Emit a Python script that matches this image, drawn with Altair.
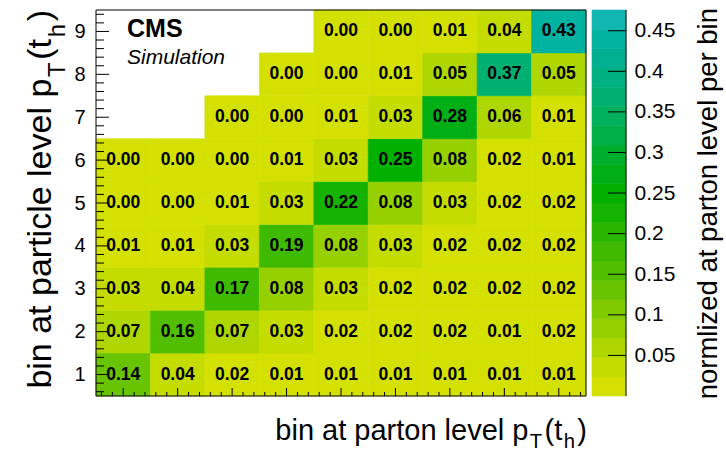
import altair as alt
import pandas as pd

# ---------------- data ----------------
parton_bins = [1, 2, 3, 4, 5, 6, 7, 8, 9]
particle_bins = [1, 2, 3, 4, 5, 6, 7, 8, 9]
# one list per particle-level bin (row), values per parton-level bin; None = empty cell
row1 = [0.14, 0.04, 0.02, 0.01, 0.01, 0.01, 0.01, 0.01, 0.01]
row2 = [0.07, 0.16, 0.07, 0.03, 0.02, 0.02, 0.02, 0.01, 0.02]
row3 = [0.03, 0.04, 0.17, 0.08, 0.03, 0.02, 0.02, 0.02, 0.02]
row4 = [0.01, 0.01, 0.03, 0.19, 0.08, 0.03, 0.02, 0.02, 0.02]
row5 = [0.00, 0.00, 0.01, 0.03, 0.22, 0.08, 0.03, 0.02, 0.02]
row6 = [0.00, 0.00, 0.00, 0.01, 0.03, 0.25, 0.08, 0.02, 0.01]
row7 = [None, None, 0.00, 0.00, 0.01, 0.03, 0.28, 0.06, 0.01]
row8 = [None, None, None, 0.00, 0.00, 0.01, 0.05, 0.37, 0.05]
row9 = [None, None, None, None, 0.00, 0.00, 0.01, 0.04, 0.43]
rows = [row1, row2, row3, row4, row5, row6, row7, row8, row9]

colorbar_ticks = [0.05, 0.1, 0.15, 0.2, 0.25, 0.3, 0.35, 0.4, 0.45]
z_max = 0.4755

palette = ["#d4e100", "#c4dc00", "#aed600", "#96d000", "#80ca00",
           "#68c400", "#52be00", "#3eba00", "#2ab600", "#16b200",
           "#02b000", "#00ae16", "#00ae2e", "#00ae46", "#00b05c",
           "#00b070", "#00b080", "#00b090", "#00b2a0", "#10b6b0"]

# ---------------- tables ----------------
records = []
for yb, row in zip(particle_bins, rows):
    for xb, v in zip(parton_bins, row):
        if v is not None:
            records.append({"parton": xb, "particle": yb, "value": v})
cells = pd.DataFrame(records)

n_bands = len(palette)
bw = z_max / n_bands
bands = pd.DataFrame({"lo": [i * bw for i in range(n_bands)],
                      "hi": [(i + 1) * bw for i in range(n_bands)]})
bands["mid"] = (bands["lo"] + bands["hi"]) / 2

major_pos = pd.DataFrame({"p": parton_bins})
minor_pos = pd.DataFrame({"p": [round(0.6 + 0.2 * i, 1) for i in range(45)
                                if abs(round(0.6 + 0.2 * i, 1) - round(0.6 + 0.2 * i)) > 1e-6]})
cb_ticks = pd.DataFrame({"t": colorbar_ticks})
one = pd.DataFrame({"a": [0]})

# ---------------- layout constants ----------------
W, H = 490, 386
FONT = "Liberation Sans"
xs = alt.Scale(domain=[0.5, 9.5], nice=False, zero=False)
ys = alt.Scale(domain=[0.5, 9.5], nice=False, zero=False)
cbs = alt.Scale(domain=[0, z_max], nice=False, zero=False)
cscale = alt.Scale(type="quantize", domain=[0, z_max], range=palette)

heat = alt.Chart(cells).transform_calculate(
    x0="datum.parton - 0.5", x1="datum.parton + 0.5",
    y0="datum.particle - 0.5", y1="datum.particle + 0.5"
).mark_rect(strokeWidth=0.6).encode(
    x=alt.X("x0:Q", scale=xs, axis=alt.Axis(values=parton_bins, format="d", labelFontSize=20,
                                           labelPadding=8, ticks=False, domain=False, grid=False,
                                           title=None, labelColor="black", labelFont=FONT)),
    x2="x1:Q",
    y=alt.Y("y0:Q", scale=ys, axis=alt.Axis(values=particle_bins, format="d", labelFontSize=20,
                                           labelPadding=11, ticks=False, domain=False, grid=False,
                                           title=None, labelColor="black", labelFont=FONT)),
    y2="y1:Q",
    color=alt.Color("value:Q", scale=cscale, legend=None),
    stroke=alt.Stroke("value:Q", scale=cscale, legend=None),
)

labels = alt.Chart(cells).mark_text(font=FONT, fontWeight="bold", fontSize=17.5, color="black",
                                    baseline="middle", align="center").encode(
    x=alt.X("parton:Q", scale=xs, axis=None),
    y=alt.Y("particle:Q", scale=ys, axis=None),
    text=alt.Text("value:Q", format=".2f"),
)

x_major = alt.Chart(major_pos).mark_rule(color="black", strokeWidth=1).encode(
    x=alt.X("p:Q", scale=xs, axis=None), y=alt.value(H), y2=alt.value(H - 8))
x_minor = alt.Chart(minor_pos).mark_rule(color="black", strokeWidth=1).encode(
    x=alt.X("p:Q", scale=xs, axis=None), y=alt.value(H), y2=alt.value(H - 4))
y_major = alt.Chart(major_pos).mark_rule(color="black", strokeWidth=1).encode(
    y=alt.Y("p:Q", scale=ys, axis=None), x=alt.value(0), x2=alt.value(13))
y_minor = alt.Chart(minor_pos).mark_rule(color="black", strokeWidth=1).encode(
    y=alt.Y("p:Q", scale=ys, axis=None), x=alt.value(0), x2=alt.value(8))

frame = alt.Chart(one).mark_rect(fill=None, stroke="black", strokeWidth=1).encode(
    x=alt.value(0), x2=alt.value(W), y=alt.value(0), y2=alt.value(H))

# colour bar
cb_x0, cb_x1 = 496, 530
cbar = alt.Chart(bands).mark_rect(strokeWidth=0.6).encode(
    x=alt.value(cb_x0), x2=alt.value(cb_x1),
    y=alt.Y("lo:Q", scale=cbs, axis=alt.Axis(orient="right", offset=cb_x1 - W, values=colorbar_ticks,
                                            format="~g", labelFontSize=21, labelPadding=8,
                                            ticks=False, domain=False, grid=False, title=None,
                                            labelColor="black", labelFont=FONT)),
    y2="hi:Q",
    color=alt.Color("mid:Q", scale=cscale, legend=None),
    stroke=alt.Stroke("mid:Q", scale=cscale, legend=None),
)
cbar_ticks = alt.Chart(cb_ticks).mark_rule(color="black", strokeWidth=1).encode(
    y=alt.Y("t:Q", scale=cbs, axis=None), x=alt.value(cb_x0 + 16), x2=alt.value(cb_x1))
cbar_line = alt.Chart(one).mark_rule(color="black", strokeWidth=1).encode(
    x=alt.value(cb_x1), y=alt.value(0), y2=alt.value(H))

# ---------------- titles with sub-scripts ----------------
CW = {' ': 278, 'a': 556, 'b': 556, 'c': 500, 'd': 556, 'e': 556, 'h': 556, 'i': 222,
      'l': 222, 'n': 556, 'o': 556, 'p': 556, 'r': 333, 't': 278, 'v': 500, 'z': 500,
      'm': 833, 'T': 611, '(': 333, ')': 333}


def text_w(s, fs):
    return sum(CW.get(c, 556) for c in s) / 1000.0 * fs


def title_layers(pieces, fs, anchor_end, base, vertical, drop_f=0.4):
    sub_fs = fs * 0.7
    drop = fs * drop_f
    items = []
    pos = 0.0
    for txt, sub in pieces:
        f = sub_fs if sub else fs
        if sub:
            pos += 0.05 * fs
        items.append((txt, f, sub, pos))
        pos += text_w(txt, f)
        if sub:
            pos += 0.08 * fs
    total = pos
    out = []
    for txt, f, sub, p in items:
        if not vertical:
            xv = anchor_end - total + p
            yv = base + (drop if sub else 0)
            ang = 0
        else:
            yv = anchor_end + total - p
            xv = base + (drop if sub else 0)
            ang = 270
        out.append(alt.Chart(one).mark_text(text=txt, font=FONT, fontSize=f, color="black",
                                            align="left", baseline="alphabetic", angle=ang)
                   .encode(x=alt.value(xv), y=alt.value(yv)))
    return out


x_title = title_layers([("bin at parton level p", False), ("T", True), ("(t", False),
                        ("h", True), (")", False)], 29, W + 1, 430, False, 0.28)
y_title = title_layers([("bin at particle level p", False), ("T", True), ("(t", False),
                        ("h", True), (")", False)], 34, 0, -45, True, 0.4)
cb_title = alt.Chart(one).mark_text(text="normlized at parton level per bin", font=FONT, fontSize=27.5,
                                    color="black", align="right", baseline="alphabetic",
                                    angle=270).encode(x=alt.value(621), y=alt.value(-2))

cms = alt.Chart(one).mark_text(text="CMS", font=FONT, fontWeight="bold", fontSize=25, color="black",
                               align="left", baseline="alphabetic").encode(x=alt.value(31), y=alt.value(27))
sim = alt.Chart(one).mark_text(text="Simulation", font=FONT, fontStyle="italic", fontSize=21,
                               color="black", align="left", baseline="alphabetic").encode(
    x=alt.value(31), y=alt.value(54))

chart = alt.layer(
    heat, labels, x_minor, x_major, y_minor, y_major, frame,
    cbar, cbar_ticks, cbar_line, cb_title, cms, sim, *x_title, *y_title
).resolve_scale(
    y="independent", color="shared", stroke="shared"
).properties(
    width=W, height=H,
    autosize=alt.AutoSizeParams(type="none"),
    padding={"left": 96, "top": 10, "right": 140, "bottom": 58},
    background="white",
).configure_view(stroke=None)

chart.save("out.html", embed_options={"renderer": "svg", "actions": False})
